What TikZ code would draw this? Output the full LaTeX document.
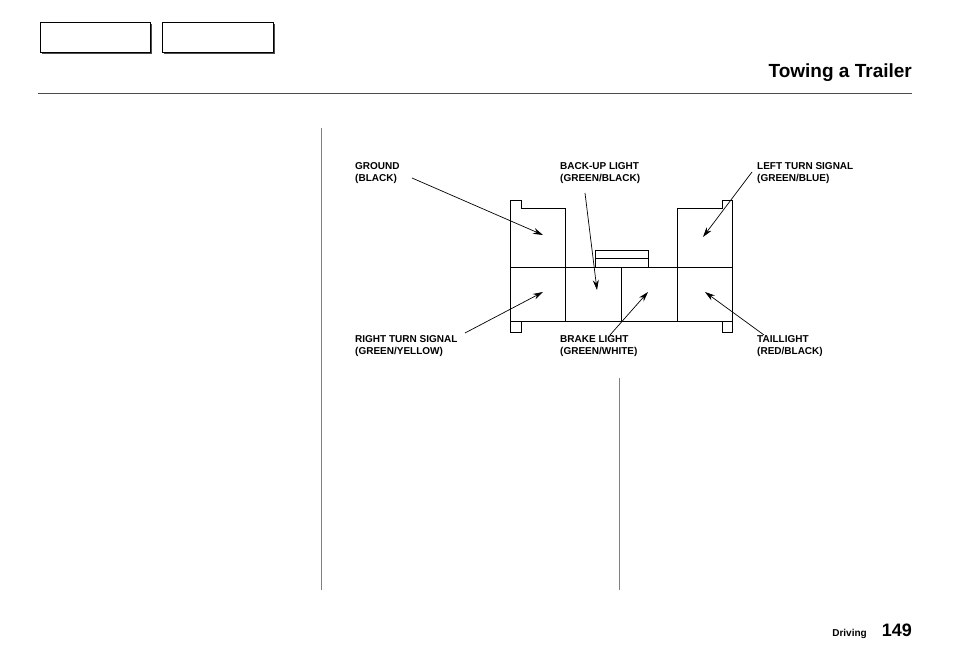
\documentclass[tikz,border=0pt]{standalone}
\usepackage{fontspec}
\setmainfont{Liberation Sans}
\usetikzlibrary{arrows.meta}
\begin{document}
\begin{tikzpicture}[x=1pt,y=-1pt,
 lab/.style={font=\bfseries\fontsize{10}{12.5}\selectfont,align=left,anchor=north west,inner sep=0pt},
 arr/.style={-{Stealth[length=10pt,width=6pt]},line width=0.7pt},
 box/.style={line width=1pt}]
\useasboundingbox (0,0) rectangle (954,672);
% header boxes
\foreach \a/\b in {40/150,162/273}{
 \fill[black!70] (\a+2,24) rectangle (\b+2,54);
 \draw[fill=white,line width=0.8pt] (\a,22) rectangle (\b,52);}
\node[anchor=east,font=\bfseries\fontsize{19}{21}\selectfont,inner sep=0pt] (title) at (912,73) {Towing a Trailer};
\draw[line width=0.6pt,black!70] (38,93) -- (912,93);
\draw[black!50] (321,128) -- (321,590);
\draw[black!50] (619,378) -- (619,590);
% connector
\draw[box] (510,332) -- (510,200) -- (521,200) -- (521,208) -- (565,208) -- (565,321);
\draw[box] (510,267) -- (732,267);
\draw[box] (510,321) -- (732,321);
\draw[box] (510,332) -- (521,332) -- (521,321);
\draw[box] (621,267) -- (621,321);
\draw[box] (677,208) -- (677,321);
\draw[box] (677,208) -- (722,208) -- (722,200) -- (732,200) -- (732,332) -- (722,332) -- (722,321);
\draw[box] (595,267) -- (595,250) -- (648,250) -- (648,267);
\draw[box] (595,258) -- (648,258);
\coordinate (t1) at (543,235); \coordinate (t2) at (597,290); \coordinate (t3) at (703,237);
\coordinate (t4) at (543,292); \coordinate (t5) at (648,292); \coordinate (t6) at (705,292);
\node[lab] (l1) at (355,162) {GROUND\\(BLACK)};
\node[lab] (l2) at (560,162) {BACK-UP LIGHT\\(GREEN/BLACK)};
\node[lab] (l3) at (757,162) {LEFT TURN SIGNAL\\(GREEN/BLUE)};
\node[lab] (l4) at (355,335) {RIGHT TURN SIGNAL\\(GREEN/YELLOW)};
\node[lab] (l5) at (560,335) {BRAKE LIGHT\\(GREEN/WHITE)};
\node[lab] (l6) at (757,335) {TAILLIGHT\\(RED/BLACK)};
\draw[arr] (412,178) -- (t1);
\draw[arr] (585,193) -- (t2);
\draw[arr] (752,172) -- (t3);
\draw[arr] (465,333) -- (t4);
\draw[arr] (610,335) -- (t5);
\draw[arr] (764,335) -- (t6);
\node[anchor=base east,font=\bfseries\fontsize{10}{12}\selectfont,inner sep=0pt] (ft) at (867,636) {Driving};
\node[anchor=base east,font=\bfseries\fontsize{18}{20}\selectfont,inner sep=0pt] (pg) at (912,636) {149};
\end{tikzpicture}
\end{document}
